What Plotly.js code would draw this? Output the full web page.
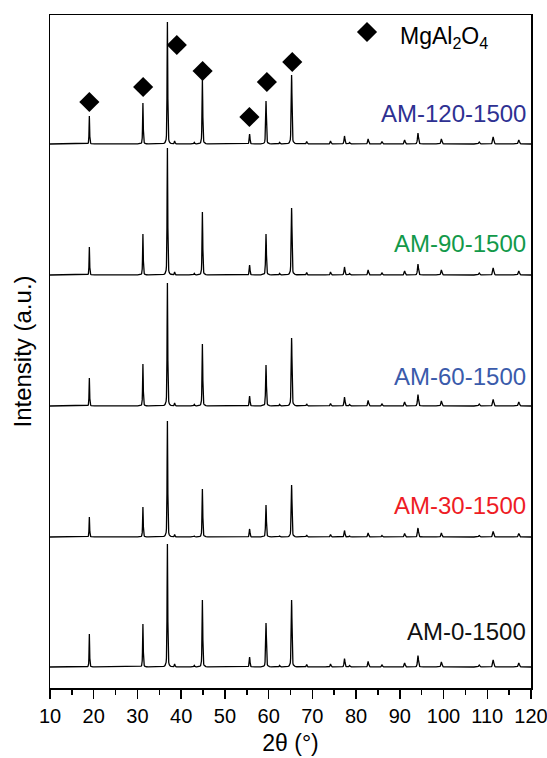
<!DOCTYPE html>
<html>
<head>
<meta charset="utf-8">
<script src="https://cdn.plot.ly/plotly-3.0.1.min.js"></script>
<style>
  html, body { margin: 0; padding: 0; background: #fff; }
  #chart { width: 547px; height: 758px; }
</style>
</head>
<body>
<div id="chart"></div>
<script>
// Reflection positions of the spinel pattern (degrees 2θ)
const twoTheta = [19.0, 31.25, 36.85, 38.5, 43.0, 44.85, 55.65, 59.4, 62.5, 65.25, 68.7,
                  74.15, 77.35, 78.5, 82.75, 85.9, 91.1, 94.15, 99.5, 108.15, 111.35, 117.2];

// Peak intensities (a.u.) for each sample, same order as twoTheta
const am0   = [33, 43, 123, 3, 1.5, 67, 10, 44, 1.5, 67, 2.5, 3, 8.5, 1.5, 5.5, 2, 4, 11.5, 5, 2, 7, 4];
const am30  = [20, 30, 116, 2.5, 1, 48, 8, 32, 1, 52, 2, 2.5, 6.5, 1, 4, 1.5, 3.5, 9, 4, 1.5, 5.5, 3.5];
const am60  = [28, 42, 123, 3, 1.5, 62, 10, 41, 1.5, 68, 2, 2.5, 9, 1.5, 5.5, 2, 4, 11.5, 5, 2, 6.5, 4];
const am90  = [28, 41, 127, 3, 1.5, 63, 10, 41, 1.5, 67, 2.5, 3, 8, 1.5, 5, 2, 4, 11, 5, 2, 7, 4];
const am120 = [28, 41, 122, 3, 1.5, 65, 10, 43, 1.5, 69, 2.5, 3, 8, 1.5, 5, 2.5, 4, 11, 5, 2, 7, 4];

const sampleNames = ["AM-0-1500", "AM-30-1500", "AM-60-1500", "AM-90-1500", "AM-120-1500"];
const sampleData  = [am0, am30, am60, am90, am120];

// Diamond markers identifying MgAl2O4 reflections (height above the top pattern's baseline)
const markerTheta  = [19.0, 31.3, 39.0, 44.9, 55.6, 59.6, 65.4];
const markerHeight = [42, 57, 99, 73, 27, 62, 82];
const phaseName = "MgAl<sub>2</sub>O<sub>4</sub>";

// Vertical stacking of the patterns
const baseOffsets = [0, 130, 261, 392, 523];
const labelColors = ["#111111", "#ee1c25", "#3a5bab", "#12994a", "#2e3192"];
const labelY      = [36, 162, 291, 424, 554];

// Pseudo-Voigt line shape used to draw each reflection
function lineShape(d, w) {
  const t = (2 * d / w);
  const lor = 1 / (1 + t * t);
  const gau = Math.exp(-Math.LN2 * t * t);
  return 0.45 * lor + 0.55 * gau;
}
function peakWidth(p) { return 0.15 + 0.0016 * (p - 19); }

const offsetsDeg = [-1.2, -0.8, -0.55, -0.4, -0.3, -0.22, -0.16, -0.11, -0.07, -0.04, -0.02, 0,
                     0.02, 0.04, 0.07, 0.11, 0.16, 0.22, 0.3, 0.4, 0.55, 0.8, 1.2];
let grid = [10, 120];
twoTheta.forEach(p => offsetsDeg.forEach(o => {
  const x = +(p + o).toFixed(3);
  if (x > 10 && x < 120) grid.push(x);
}));
grid = Array.from(new Set(grid)).sort((a, b) => a - b);

function pattern(heights, base) {
  return grid.map(x => {
    let s = 0;
    twoTheta.forEach((p, i) => { s += heights[i] * lineShape(x - p, peakWidth(p)); });
    return base + s;
  });
}

const font = "Liberation Sans, Arial, Helvetica, sans-serif";
const traces = sampleData.map((h, k) => ({
  type: "scatter", mode: "lines",
  x: grid, y: pattern(h, baseOffsets[k]),
  line: { color: "#000", width: 1.3 },
  showlegend: false, hoverinfo: "skip"
}));

const diamond = { symbol: "diamond", size: 15.5, color: "#000" };
traces.push({
  type: "scatter", mode: "markers", name: phaseName,
  x: markerTheta,
  y: markerHeight.map(v => v + baseOffsets[4]),
  marker: diamond, showlegend: false, hoverinfo: "skip"
});
// key symbol beside the phase name
traces.push({
  type: "scatter", mode: "markers",
  x: [82.5], y: [635],
  marker: diamond, showlegend: false, hoverinfo: "skip"
});

const annotations = sampleNames.map((n, k) => ({
  text: n, xref: "paper", yref: "y", x: 0.993, y: labelY[k],
  xanchor: "right", yanchor: "middle", showarrow: false,
  font: { family: font, size: 24, color: labelColors[k] }
}));
annotations.push({
  text: phaseName, xref: "paper", yref: "y", x: 0.724, y: 630,
  xanchor: "left", yanchor: "middle", showarrow: false,
  font: { family: font, size: 23, color: "#000" }
});

const layout = {
  width: 547, height: 758,
  margin: { l: 50, r: 16, t: 15, b: 70 },
  paper_bgcolor: "#fff", plot_bgcolor: "#fff",
  font: { family: font, color: "#000" },
  showlegend: false,
  xaxis: {
    range: [10, 120], tick0: 10, dtick: 10,
    ticks: "outside", ticklen: 9, tickwidth: 1.5, tickcolor: "#000",
    ticklabeloverflow: "allow",
    minor: { dtick: 5, tick0: 5, ticks: "outside", ticklen: 5, tickwidth: 1.5, tickcolor: "#000" },
    showline: true, linecolor: "#000", linewidth: 1.5, mirror: true,
    showgrid: false, zeroline: false,
    tickfont: { family: font, size: 20, color: "#000" },
    title: { text: "2θ (°)", font: { family: font, size: 23, color: "#000" }, standoff: 9 }
  },
  yaxis: {
    range: [-21, 652],
    showticklabels: false, ticks: "",
    showline: true, linecolor: "#000", linewidth: 1.5, mirror: true,
    showgrid: false, zeroline: false,
    title: { text: "Intensity (a.u.)", font: { family: font, size: 24, color: "#000" }, standoff: 10 }
  },
  annotations: annotations
};

Plotly.newPlot("chart", traces, layout, { displayModeBar: false, staticPlot: true });
</script>
</body>
</html>
